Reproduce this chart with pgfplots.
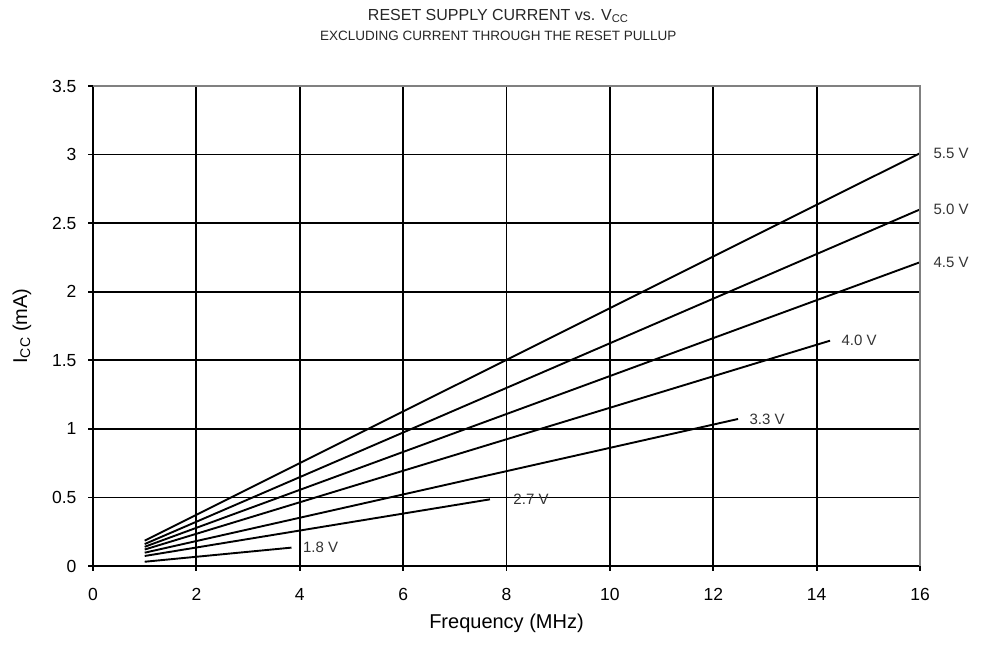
\documentclass[border=0pt]{standalone}
\usepackage{fontspec}
\setmainfont{Liberation Sans}
\usepackage{pgfplots}
\pgfplotsset{compat=1.18}
\tikzset{vcc/.style={black, solid, line width=1.9pt, no marks}}

\begin{document}
\begin{tikzpicture}
\begin{axis}[
    scale only axis,
    width=827pt, height=480pt,
    xmin=0, xmax=16, ymin=0, ymax=3.5,
    xtick={0,2,...,16},
    ytick={0,0.5,...,3.5},
    yticklabels={0,0.5,1,1.5,2,2.5,3,3.5},
    axis x line*=bottom, axis y line*=left,
    axis line style={black, line width=2.2pt, -},
    tick align=outside, major tick length=5pt,
    tick style={black, line width=1.8pt},
    grid=major,
    major grid style={black, line width=1.8pt},
    /pgf/number format/assume math mode=true,
    ticklabel style={font=\fontsize{17.5}{19}\selectfont},
    xticklabel style={yshift=-14pt},
    yticklabel style={xshift=-8pt},
    xlabel={Frequency  (MHz)},
    ylabel={I\textsubscript{CC} (mA)},
    label style={font=\fontsize{20}{22}\selectfont},
    xlabel style={yshift=-6pt},
    ylabel style={yshift=14pt},
    clip=false,
]
\addplot[vcc] coordinates {(1,0.185) (16,3.01)};
\addplot[vcc] coordinates {(1,0.160) (16,2.60)};
\addplot[vcc] coordinates {(1,0.140) (16,2.215)};
\addplot[vcc] coordinates {(1,0.120) (14.26,1.643)};
\addplot[vcc] coordinates {(1,0.097) (12.48,1.072)};
\addplot[vcc] coordinates {(1,0.073) (7.68,0.486)};
\addplot[vcc] coordinates {(1,0.031) (3.84,0.134)};

\draw[gray, line width=2.8pt] (rel axis cs:0,1) -- (rel axis cs:1,1) -- (rel axis cs:1,0);

\begin{scope}[every node/.style={anchor=west, font=\fontsize{15}{17}\selectfont, text=black!80}]
\node at (axis cs:16,3.01)  [xshift=10pt] {5.5 V};
\node at (axis cs:16,2.60)  [xshift=10pt] {5.0 V};
\node at (axis cs:16,2.215) [xshift=10pt] {4.5 V};
\node at (axis cs:14.26,1.643) [xshift=8pt] {4.0 V};
\node at (axis cs:12.48,1.072) [xshift=8pt] {3.3 V};
\node at (axis cs:7.68,0.486)  [xshift=20pt] {2.7 V};
\node at (axis cs:3.84,0.134)  [xshift=8pt] {1.8 V};
\end{scope}

\node[font=\fontsize{16}{18}\selectfont, text=black!85] at (rel axis cs:0.49,1) [yshift=70pt] {RESET SUPPLY CURRENT vs. V\textsubscript{CC}};
\node[font=\fontsize{13.5}{15}\selectfont, text=black!85] at (rel axis cs:0.49,1) [yshift=50pt] {EXCLUDING CURRENT THROUGH THE RESET PULLUP};
\end{axis}
\pgfresetboundingbox
\path (current axis.south west) ++(-93pt,-86pt) coordinate (bbA);
\path (current axis.north east) ++(65pt,86pt) coordinate (bbB);
\path[use as bounding box] (bbA) rectangle (bbB);
\end{tikzpicture}
\end{document}
